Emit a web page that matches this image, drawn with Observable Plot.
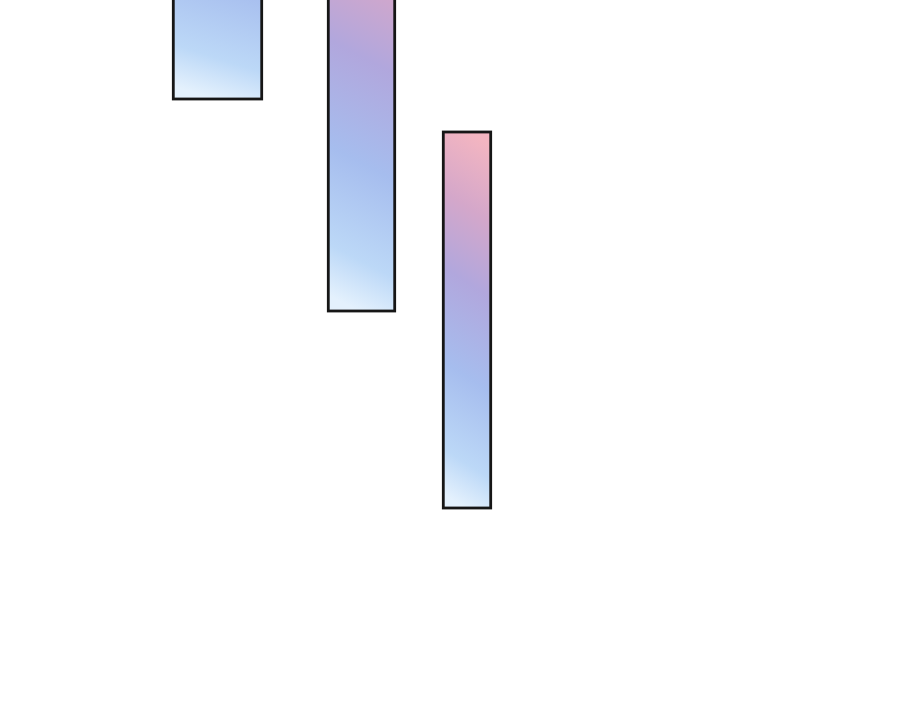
<!DOCTYPE html>
<html>
<head>
<meta charset="utf-8">
<script src="https://cdn.jsdelivr.net/npm/d3@7"></script>
<script src="https://cdn.jsdelivr.net/npm/@observablehq/plot@0.6"></script>
<style>
  html, body { margin: 0; padding: 0; background: #fff; }
  #chart { width: 900px; height: 702px; overflow: hidden; }
</style>
</head>
<body>
<div id="chart"></div>
<script>
// Data (x in arbitrary units 0–90, y in units 0–70.2, upward)
const categories = ["A", "B", "C"];
const xStart = [17.33, 32.83, 44.33];
const xEnd   = [26.17, 39.47, 49.07];
const yLow   = [60.3, 39.1, 19.4];
const yHigh  = [95.0, 81.5, 57.0];

const data = categories.map((c, i) => ({
  cat: c, x1: xStart[i], x2: xEnd[i], y1: yLow[i], y2: yHigh[i]
}));

const chart = Plot.plot({
  width: 900,
  height: 702,
  margin: 0,
  x: { domain: [0, 90], axis: null },
  y: { domain: [0, 70.2], axis: null },
  marks: [
    Plot.rect(data, {
      x1: "x1", x2: "x2", y1: "y1", y2: "y2",
      fill: "url(#barGrad)",
      stroke: "#161616",
      strokeWidth: 2.8,
      clip: true
    })
  ]
});

const svg = d3.select(chart);
const defs = svg.insert("defs", ":first-child");
const grad = defs.append("linearGradient")
  .attr("id", "barGrad")
  .attr("x1", "0.46").attr("y1", "1")
  .attr("x2", "0.54").attr("y2", "0");
[
  [0.0, "#e4f1fd"],
  [0.12, "#bcd8f7"],
  [0.35, "#a6bdee"],
  [0.6, "#b1a7dd"],
  [0.8, "#d4a7ca"],
  [1.0, "#f3b5c1"]
].forEach(([o, c]) => grad.append("stop").attr("offset", o).attr("stop-color", c));

document.getElementById("chart").appendChild(chart);
</script>
</body>
</html>
